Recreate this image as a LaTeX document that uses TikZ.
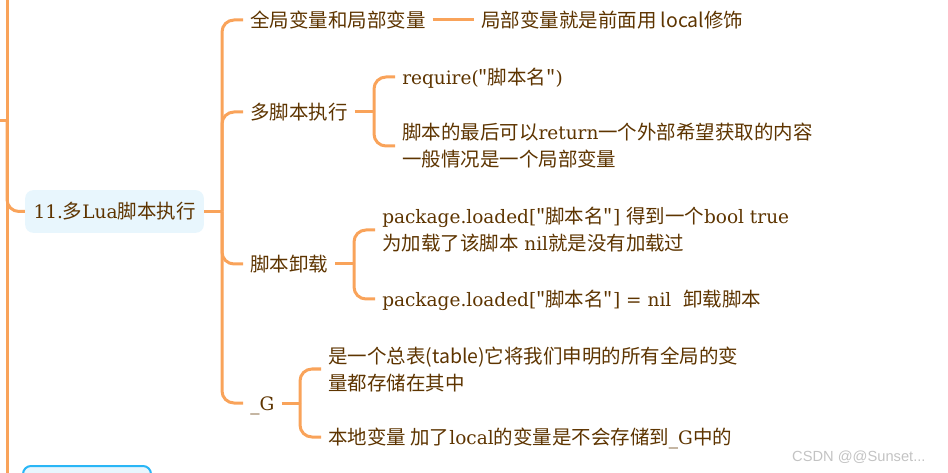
\documentclass[tikz,border=0pt]{standalone}
\usepackage{fontspec}
\setmainfont{DejaVu Serif}[Scale=0.95]
\newfontfamily\zhfont{Noto Sans CJK SC}
\newfontfamily\wmfont{Liberation Sans}
\newcommand{\zh}[1]{{\zhfont #1}}
\definecolor{branch}{RGB}{249,163,90}
\definecolor{ink}{RGB}{93,52,0}
\definecolor{rootfill}{RGB}{232,246,253}
\definecolor{selblue}{RGB}{41,182,246}
\definecolor{wmgray}{RGB}{195,195,195}

\begin{document}
\begin{tikzpicture}[x=0.75pt, y=-0.75pt,
    topic/.style={anchor=west, inner xsep=5.25pt, inner ysep=0pt, text=ink, font=\fontsize{14.6}{20.25}\selectfont, text height=12.8pt, text depth=1.8pt},
    note/.style={anchor=west, inner xsep=5.25pt, inner ysep=0pt, text=ink, font=\fontsize{14.6}{20.25}\selectfont, align=left},
    root/.style={fill=rootfill, rounded corners=6pt, minimum width=134pt, minimum height=32pt, text=ink, font=\fontsize{14.6}{20.25}\selectfont},
    link/.style={draw=branch, line width=2.25pt, rounded corners=9pt}
]
\useasboundingbox (0,0) rectangle (948,473);
\clip (0,0) rectangle (948,473);

\node[root] (root) at (114.5,211.5) {11.\zh{多}Lua\zh{脚本执行}};
\node[draw=selblue, line width=1.5pt, fill=rootfill, rounded corners=6pt, minimum width=96pt, minimum height=24pt, anchor=north west] (next) at (22,465) {};

\node[topic] (b1) at (243,20) {\zh{全局变量和局部变量}};
\node[topic] (g1) at (474,20) {\zh{局部变量就是前面用 local修饰}};

\node[topic] (b2) at (243,112) {\zh{多脚本执行}};
\node[topic] (c1) at (395,77) {require(\zh{"脚本名"})};
\node[note] (c2) at (395,146) {\zh{脚本的最后可以}return\zh{一个外部希望获取的内容}\\\zh{一般情况是一个局部变量}};

\node[topic] (b3) at (243,264) {\zh{脚本卸载}};
\node[note] (d1) at (375,230) {package.loaded[\zh{"脚本名"}] \zh{得到一个}bool true\\\zh{为加载了该脚本} nil\zh{就是没有加载过}};
\node[topic] (d2) at (375,299) {package.loaded[\zh{"脚本名"}] = nil\ \ \zh{卸载脚本}};

\node[topic] (b4) at (243,403) {\_G};
\node[note] (e1) at (321,369) {\zh{是一个总表(table)它将我们申明的所有全局的变}\\\zh{量都存储在其中}};
\node[topic] (e2) at (321,437) {\zh{本地变量 加了}local\zh{的变量是不会存储到}\_G\zh{中的}};

\node[anchor=east, text=wmgray, font=\wmfont\fontsize{11}{13}\selectfont] (wm) at (930,457) {CSDN @@Sunset...};

\coordinate (up) at (7,-10);
\coordinate (down) at (7,490);
\coordinate (prev) at (-10,121);
\coordinate (spine) at (7,121);
\coordinate (hub) at (222,211.5);
\coordinate (hub2) at (374,112);
\coordinate (hub3) at (354,264);
\coordinate (hub4) at (300,403);

\draw[link] (up) -- (down);
\draw[link] (prev) -- (spine);
\draw[link] (spine) |- (root.west);
\draw[link] (root.east) -- (hub);
\foreach \b in {b1,b2,b3,b4}
  \draw[link] (hub) |- (\b.west);
\draw[link] (b1) -- (g1);
\draw[link] (b2.east) -- (hub2);
\draw[link] (hub2) |- (c1.west);
\draw[link] (hub2) |- (c2.west);
\draw[link] (b3.east) -- (hub3);
\draw[link] (hub3) |- (d1.west);
\draw[link] (hub3) |- (d2.west);
\draw[link] (b4.east) -- (hub4);
\draw[link] (hub4) |- (e1.west);
\draw[link] (hub4) |- (e2.west);
\end{tikzpicture}
\end{document}
